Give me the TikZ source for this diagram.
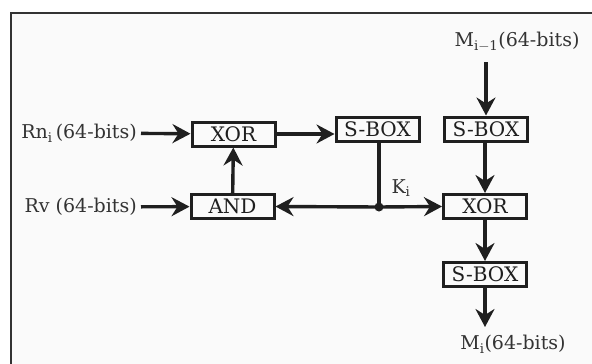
\documentclass[tikz,border=0pt]{standalone}
\usepackage{fontspec}
\setmainfont{DejaVu Serif}
\usetikzlibrary{arrows.meta,positioning,calc}

\tikzset{
  blk/.style={draw, line width=3pt, minimum width=83pt, minimum height=24pt, inner sep=0pt, font=\fontsize{20}{22}\selectfont},
  lbl/.style={inner sep=4pt, font=\fontsize{19}{21}\selectfont, text=black!80},
  flow/.style={line width=3.4pt, -{Stealth[length=18pt,width=19pt,inset=6pt]}}
}

\begin{document}
\begin{tikzpicture}[x=1pt, y=-1pt, black!88]
    \useasboundingbox (0,0) rectangle (592,364);

    % Frame
    \fill[black!2] (11,13) rectangle (592,364);
    \draw[line width=2.5pt, black!80] (11,364) -- (11,13) -- (592,13);

    % Left column
    \node[blk] (xorA) at (233.5,134) {XOR};
    \node[blk] (andA) at (232.5,206.5) {AND};
    \node[lbl, anchor=east] (rni) at (141,133) {Rn$_\mathrm{i}$\,(64-bits)};
    \node[lbl, anchor=east] (rv) at (141,207) {Rv (64-bits)};

    % Key S-box
    \node[blk] (sboxA) at (377.5,129) {S-BOX};
    \fill (379,207) circle (4.5pt) coordinate (split);
    \node[lbl] (ki) at (401,188) {K$_\mathrm{i}$};

    % Right column
    \node[lbl] (mprev) at (517,42) {M$_\mathrm{i-1}$(64-bits)};
    \coordinate (inM) at (486,62);
    \node[blk] (sboxB) at (486,129) {S-BOX};
    \node[blk] (xorB) at (485,206.5) {XOR};
    \node[blk] (sboxC) at (485,274.5) {S-BOX};
    \coordinate (outM) at (485,327);
    \node[lbl] (mi) at (513,344) {M$_\mathrm{i}$(64-bits)};

    % Connections
    \draw[flow] (rni) -- (xorA);
    \draw[flow] (rv) -- (andA);
    \draw[flow] (andA) -- (xorA);
    \draw[flow] (xorA.east) -- (sboxA.west |- xorA.east);
    \draw[line width=3.4pt] (sboxA.south -| split) -- (split);
    \draw[flow] (split) -- (andA.east);
    \draw[flow] (split) -- (xorB.west);
    \draw[flow] (inM) -- (sboxB.north);
    \draw[flow] (sboxB.south -| xorB.north) -- (xorB.north);
    \draw[flow] (xorB) -- (sboxC);
    \draw[flow] (sboxC.south) -- (outM);

\end{tikzpicture}
\end{document}
